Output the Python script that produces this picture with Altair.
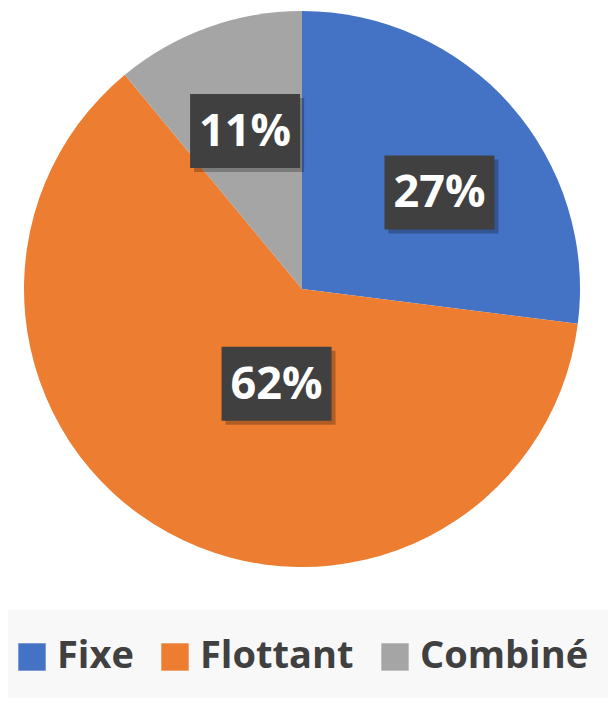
import altair as alt
import pandas as pd

categories = ["Fixe", "Flottant", "Combiné"]
values = [27, 62, 11]
colors = ["#4472C4", "#ED7D31", "#A5A5A5"]

df = pd.DataFrame({"cat": categories, "val": values, "order": list(range(len(categories)))})

CX, CY, R = 294, 281, 278
BW, BH = 110, 74

color = alt.Color(
    "cat:N",
    scale=alt.Scale(domain=categories, range=colors),
    sort=categories,
    legend=alt.Legend(
        title=None, orient="none", direction="horizontal",
        legendX=5, legendY=630, padding=0,
        symbolType="square", symbolSize=750, symbolStrokeWidth=0,
        labelFont="Open Sans", labelFontWeight="bold", labelFontSize=38,
        labelColor="#404040", labelOffset=6, columnPadding=22,
        labelLimit=400,
    ),
)

band = alt.Chart(pd.DataFrame({"a": [0]})).mark_rect(color="#f8f8f8").encode(
    x=alt.value(-8), x2=alt.value(608), y=alt.value(602), y2=alt.value(698)
)

pie = alt.Chart(df).mark_arc(radius=R).encode(
    theta=alt.Theta("val:Q", stack=True),
    order=alt.Order("order:Q"),
    color=color,
    x=alt.value(CX), y=alt.value(CY),
)

lab = alt.Chart(df).transform_joinaggregate(total="sum(val)").transform_window(
    cum="sum(val)", sort=[alt.SortField("order")]
).transform_calculate(
    tweak="datum.cat == 'Flottant' ? -0.24 : (datum.cat == 'Fixe' ? 0.11 : 0)",
    lr="datum.val > 50 ? 98 : 168",
).transform_calculate(
    mid="(datum.cum - datum.val / 2) / datum.total * 2 * PI + datum.tweak",
).transform_calculate(
    lx=f"{CX} + datum.lr * sin(datum.mid)",
    ly=f"{CY} - datum.lr * cos(datum.mid)",
    lbl="datum.val + '%'",
).transform_calculate(
    x1=f"datum.lx - {BW/2}", x2=f"datum.lx + {BW/2}",
    y1=f"datum.ly - {BH/2}", y2=f"datum.ly + {BH/2}",
    sx1=f"datum.lx - {BW/2} + 4", sx2=f"datum.lx + {BW/2} + 4",
    sy1=f"datum.ly - {BH/2} + 4", sy2=f"datum.ly + {BH/2} + 4",
)

shadow = lab.mark_rect(color="#000000", opacity=0.25).encode(
    x=alt.X("sx1:Q", scale=None, axis=None), x2="sx2:Q",
    y=alt.Y("sy1:Q", scale=None, axis=None), y2="sy2:Q",
)
box = lab.mark_rect(color="#404040").encode(
    x=alt.X("x1:Q", scale=None, axis=None), x2="x2:Q",
    y=alt.Y("y1:Q", scale=None, axis=None), y2="y2:Q",
)
text = lab.mark_text(
    font="Open Sans", fontWeight="bold", fontSize=45, color="white",
    align="center", baseline="middle", dy=1,
).encode(
    x=alt.X("lx:Q", scale=None, axis=None),
    y=alt.Y("ly:Q", scale=None, axis=None),
    text="lbl:N",
)

chart = alt.layer(band, pie, shadow, box, text).properties(
    width=600, height=690, autosize="none", padding=0
).configure_view(stroke=None)

chart.save("out.html", embed_options={"renderer": "svg", "actions": False})
